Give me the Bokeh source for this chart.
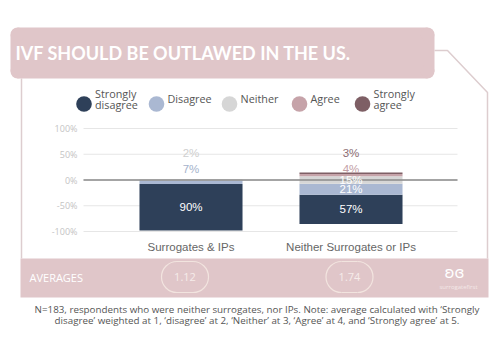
from bokeh.plotting import figure
from bokeh.models import Range1d, ColumnDataSource
from bokeh.core.properties import value
from bokeh.embed import file_html
from bokeh.resources import INLINE

# ---------------- data ----------------
groups = ["Surrogates & IPs", "Neither Surrogates or IPs"]
responses = ["Strongly disagree", "Disagree", "Neither", "Agree", "Strongly agree"]
legend_lines = [["Strongly", "disagree"], ["Disagree"], ["Neither"], ["Agree"], ["Strongly", "agree"]]
strongly_disagree = [90, 57]
disagree = [7, 21]
neither = [2, 15]
agree = [0, 4]
strongly_agree = [0, 3]
averages = ["1.12", "1.74"]
y_ticks = [-100, -50, 0, 50, 100]
title_text = "IVF SHOULD BE OUTLAWED IN THE US."
note_lines = [
    "N=183, respondents who were neither surrogates, nor IPs. Note: average calculated with \u2018Strongly",
    "disagree\u2019 weighted at 1, \u2018disagree\u2019 at 2, \u2018Neither\u2019 at 3, \u2018Agree\u2019 at 4, and \u2018Strongly agree\u2019 at 5.",
]

# ---------------- styles ----------------
colors = ["#2e4059", "#aab8d2", "#d6d6d6", "#c6a3a9", "#7e5f65"]
small_label_colors = ["#2e4059", "#a5b3cc", "#cfcfcf", "#c3a0a6", "#8c6d73"]
pink = "#e0c6c9"
outline = "#ddcdcf"
FONT = "Open Sans"
SANS = "Liberation Sans"
W, H = 500, 350

series = [strongly_disagree, disagree, neither, agree, strongly_agree]

# layout geometry (px from top-left)
PLOT_L, PLOT_R = 83, 457
Y100, YM100 = 128, 231          # pixel rows of +100% and -100%
CAT_X0, CAT_X1 = 190.5, 350.5   # pixel centres of the two groups

ppu = (YM100 - Y100) / 200.0
pct_top = 100 + Y100 / ppu
pct_bot = -100 - (H - YM100) / ppu
cppu = CAT_X1 - CAT_X0
cat_start = -CAT_X0 / cppu
cat_end = 1 + (W - CAT_X1) / cppu

p = figure(width=W, height=H, x_range=Range1d(0, W), y_range=Range1d(0, H),
           x_axis_type=None, y_axis_type=None, min_border=0,
           output_backend="svg", toolbar_location=None)
p.extra_y_ranges = {"pct": Range1d(pct_bot, pct_top)}
p.extra_x_ranges = {"cat": Range1d(cat_start, cat_end)}
p.outline_line_color = None
p.background_fill_color = "white"
p.border_fill_color = "white"
p.grid.visible = False


def Y(y):
    return H - y


def txt(x, y, text, color, size, font=FONT, align="left", style="normal"):
    p.text(x=[x], y=[Y(y)], text=[text], text_color=color, text_font=value(font),
           text_font_size=size, text_align=align, text_baseline="middle",
           text_font_style=value(style))


# ---------- card outline ----------
p.multi_line(xs=[[21, 21], [434, 447, 487, 487]],
             ys=[[Y(78), Y(258)], [Y(50), Y(50), Y(92), Y(258)]],
             line_color=outline, line_width=1.5)

# ---------- title box (rounded) ----------
r = 7
L, T, R, B = 10, 27, 434, 78
p.quad(left=[L + r, L], right=[R - r, R], top=[Y(T), Y(T + r)], bottom=[Y(B), Y(B - r)],
       fill_color=pink, line_color=None)
p.circle(x=[L + r, R - r, L + r, R - r], y=[Y(T + r), Y(T + r), Y(B - r), Y(B - r)],
         radius=r, fill_color=pink, line_color=None)
txt(15, 52.5, title_text, "white", "18px", font="Lato", style="bold")

# ---------- legend ----------
leg_x = [83.5, 156, 229, 299, 362]
p.circle(x=leg_x, y=[Y(103.5)] * len(leg_x), radius=7.8, fill_color=colors, line_color=None)
for i, lines in enumerate(legend_lines):
    ys = [92.5, 104] if len(lines) == 2 else [97.5]
    for ln, yy in zip(lines, ys):
        txt(leg_x[i] + 11, yy, ln, "#555555", "10.8px")

# ---------- grid ----------
p.segment(x0=[PLOT_L] * len(y_ticks), x1=[PLOT_R] * len(y_ticks), y0=y_ticks, y1=y_ticks,
          y_range_name="pct", line_color="#e6e6e6", line_width=1)
p.text(x=[PLOT_L - 6] * len(y_ticks), y=y_ticks, text=[f"{t}%" for t in y_ticks],
       y_range_name="pct", text_color="#c4c4c4", text_font=value(FONT), text_font_size="9px",
       text_align="right", text_baseline="middle")

# ---------- bars ----------
idx = list(range(len(groups)))
bottoms, tops = [], []
for g in idx:
    sd, d, n, a, sa = (s[g] for s in series)
    bottoms.append([-n / 2 - d - sd, -n / 2 - d, -n / 2, n / 2, n / 2 + a])
    tops.append([-n / 2 - d, -n / 2, n / 2, n / 2 + a, n / 2 + a + sa])

for i, name in enumerate(responses):
    src = ColumnDataSource(dict(x=idx, bottom=[bottoms[g][i] for g in idx],
                                top=[tops[g][i] for g in idx]))
    p.vbar(x="x", bottom="bottom", top="top", width=0.644, source=src,
           x_range_name="cat", y_range_name="pct", fill_color=colors[i], line_color=None)

p.segment(x0=[PLOT_L], x1=[PLOT_R], y0=[0], y1=[0], y_range_name="pct",
          line_color="#8a8a8a", line_width=1.5)

lx, ly, lt, lc = [], [], [], []
for g in idx:
    slot = 0
    for i in range(len(responses)):
        v = series[i][g]
        if v <= 0:
            continue
        if v >= 10:
            ly.append((bottoms[g][i] + tops[g][i]) / 2)
            lc.append("white")
        else:
            ly.append(21 + 31 * slot)
            lc.append(small_label_colors[i])
            slot += 1
        lx.append(g)
        lt.append(f"{v}%")
p.text(x=lx, y=ly, text=lt, text_color=lc, text_align="center", text_baseline="middle",
       x_range_name="cat", y_range_name="pct", text_font=value(SANS), text_font_size="11.5px")

# category labels
p.text(x=idx, y=[Y(246)] * len(idx), text=groups, x_range_name="cat",
       text_color="#666666", text_font=value(SANS), text_font_size="11.5px",
       text_align="center", text_baseline="middle")

# ---------- averages band ----------
p.quad(left=[20], right=[488], top=[Y(258)], bottom=[Y(297)], fill_color=pink, line_color=None)
txt(29, 276.5, "AVERAGES", "white", "11px")
pill_x = [184.5, 349]
pr, phw, pcy = 15.5, 23.5, 276.5
for cx, av in zip(pill_x, averages):
    p.segment(x0=[cx - phw + pr] * 2, x1=[cx + phw - pr] * 2,
              y0=[Y(pcy - pr), Y(pcy + pr)], y1=[Y(pcy - pr), Y(pcy + pr)],
              line_color="#f2e4df", line_width=1.2)
    p.arc(x=[cx - phw + pr, cx + phw - pr], y=[Y(pcy)] * 2, radius=pr,
          start_angle=[1.5708, -1.5708], end_angle=[4.7124, 1.5708],
          line_color="#f2e4df", line_width=1.2)
    txt(cx, pcy, av, "#f6ecea", "11px", align="center")
txt(454, 272, "\u029a\u025e", "white", "15px", font="DejaVu Sans", align="center")
txt(458, 286.5, "surrogatefirst", "#f4e8e8", "6px", align="center")

# ---------- footnote ----------
for i, ln in enumerate(note_lines):
    txt(256.5, 309 + 11 * i, ln, "#555555", "9.8px", align="center")

open("out.html", "w").write(file_html(p, INLINE))
